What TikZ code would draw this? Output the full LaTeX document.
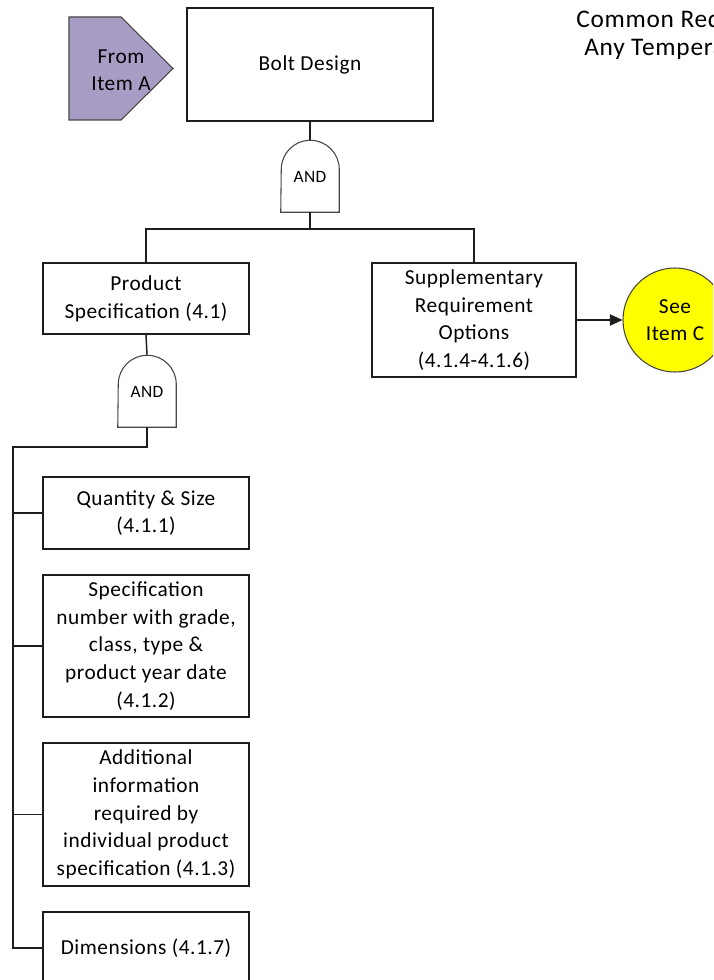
\documentclass[tikz,border=0pt]{standalone}
\usepackage{fontspec}
\setmainfont{Carlito}[LetterSpace=2.5]
\newfontfamily\titlefont{Carlito}[LetterSpace=3]
\usetikzlibrary{arrows.meta}
\definecolor{linegray}{RGB}{30,30,30}
\definecolor{gategray}{RGB}{70,70,70}
\definecolor{lavender}{RGB}{168,155,196}
\definecolor{seeyellow}{RGB}{255,255,0}
\tikzset{
  box/.style={draw=linegray, line width=1.1pt, fill=white, align=center,
    inner sep=2pt, font=\fontsize{16}{20.8}\selectfont},
  gatelabel/.style={draw=none, minimum width=43.5pt, minimum height=54pt,
    inner sep=0pt},
  gatetext/.style={font=\fontsize{13}{15}\selectfont},
  gate/.style={draw=gategray, line width=0.8pt, fill=white},
  wire/.style={draw=linegray, line width=1.1pt},
  offpage/.style={draw=gategray, line width=0.8pt, fill=lavender},
  connector/.style={circle, draw=gategray, line width=0.8pt, fill=seeyellow,
    minimum size=78pt, inner sep=0pt, align=center,
    font=\fontsize{16}{20.5}\selectfont},
}
\begin{document}
\begin{tikzpicture}[x=0.75pt, y=0.75pt]
  \useasboundingbox (0,0) rectangle (713,-980);
  \clip (0,0) rectangle (713,-980);
  \fill[white] (0,0) rectangle (713,-980);

  % heading, running off the right edge
  \node[anchor=base west, inner sep=0pt, font=\titlefont\fontsize{19}{23}\selectfont] (title1) at (576,-28) {Common Requirements};
  \node[anchor=base west, inner sep=0pt, font=\titlefont\fontsize{19}{23}\selectfont] (title2) at (584,-56) {Any Temperature};

  % off-page connector
  \path[offpage] (69,-17) -- (121,-17) -- (173,-68.5) -- (121,-120) -- (69,-120) -- cycle;
  \node[align=center, font=\fontsize{16}{20.5}\selectfont] (froma) at (121,-70) {From\\Item A};

  % top event
  \node[box, minimum width=184.5pt, minimum height=84.75pt] (bolt) at (310,-64.5) {Bolt Design};

  % first AND gate
  \node[gatelabel] (g1) at (310,-176) {};
  \path[gate] (g1.south west) -- (g1.south east) -- ++(0,43)
     arc[start angle=0, end angle=180, radius=29] -- cycle;
  \node[gatetext] (g1t) at (310,-177) {AND};

  \node[box, minimum width=154.5pt, minimum height=53.25pt] (prod) at (146,-298.5) {Product\\Specification (4.1)};
  \node[box, minimum width=153pt, minimum height=85.5pt] (supp) at (474,-320) {Supplementary\\Requirement\\Options\\(4.1.4-4.1.6)};
  \node[connector] (itemc) at (675,-320) {See\\Item C};

  % second AND gate
  \node[gatelabel] (g2) at (147,-391) {};
  \path[gate] (g2.south west) -- (g2.south east) -- ++(0,43)
     arc[start angle=0, end angle=180, radius=29] -- cycle;
  \node[gatetext] (g2t) at (147,-392) {AND};

  % basic events
  \node[box, minimum width=154.5pt, minimum height=54pt] (qty) at (146,-513) {Quantity \& Size\\(4.1.1)};
  \node[box, minimum width=154.5pt, minimum height=106.5pt] (specno) at (146,-646) {Specification\\number with grade,\\class, type \&\\product year date\\(4.1.2)};
  \node[box, minimum width=154.5pt, minimum height=107.25pt] (addl) at (146,-814.5) {Additional\\information\\required by\\individual product\\specification (4.1.3)};
  \node[box, minimum width=154.5pt, minimum height=54pt] (dims) at (146,-948) {Dimensions (4.1.7)};

  % wiring
  \draw[wire] (bolt.south) -- (g1.north);
  \coordinate (j1) at (310,-229);
  \draw[wire] (g1.south) -- (j1);
  \draw[wire] (j1) -| (prod.north);
  \draw[wire] (j1) -| (supp.north);
  \draw[wire, -{Triangle[length=9.5pt, width=8.5pt]}] (supp.east) -- (itemc.west);

  \draw[wire] (prod.south) -- (g2.north);
  \coordinate (sp) at (13,-447);
  \draw[wire] (g2.south) |- (sp) |- (dims.west);
  \draw[wire] (sp |- qty.west) -- (qty.west);
  \draw[wire] (sp |- specno.west) -- (specno.west);
  \draw[wire] (sp |- addl.west) -- (addl.west);
\end{tikzpicture}
\end{document}
